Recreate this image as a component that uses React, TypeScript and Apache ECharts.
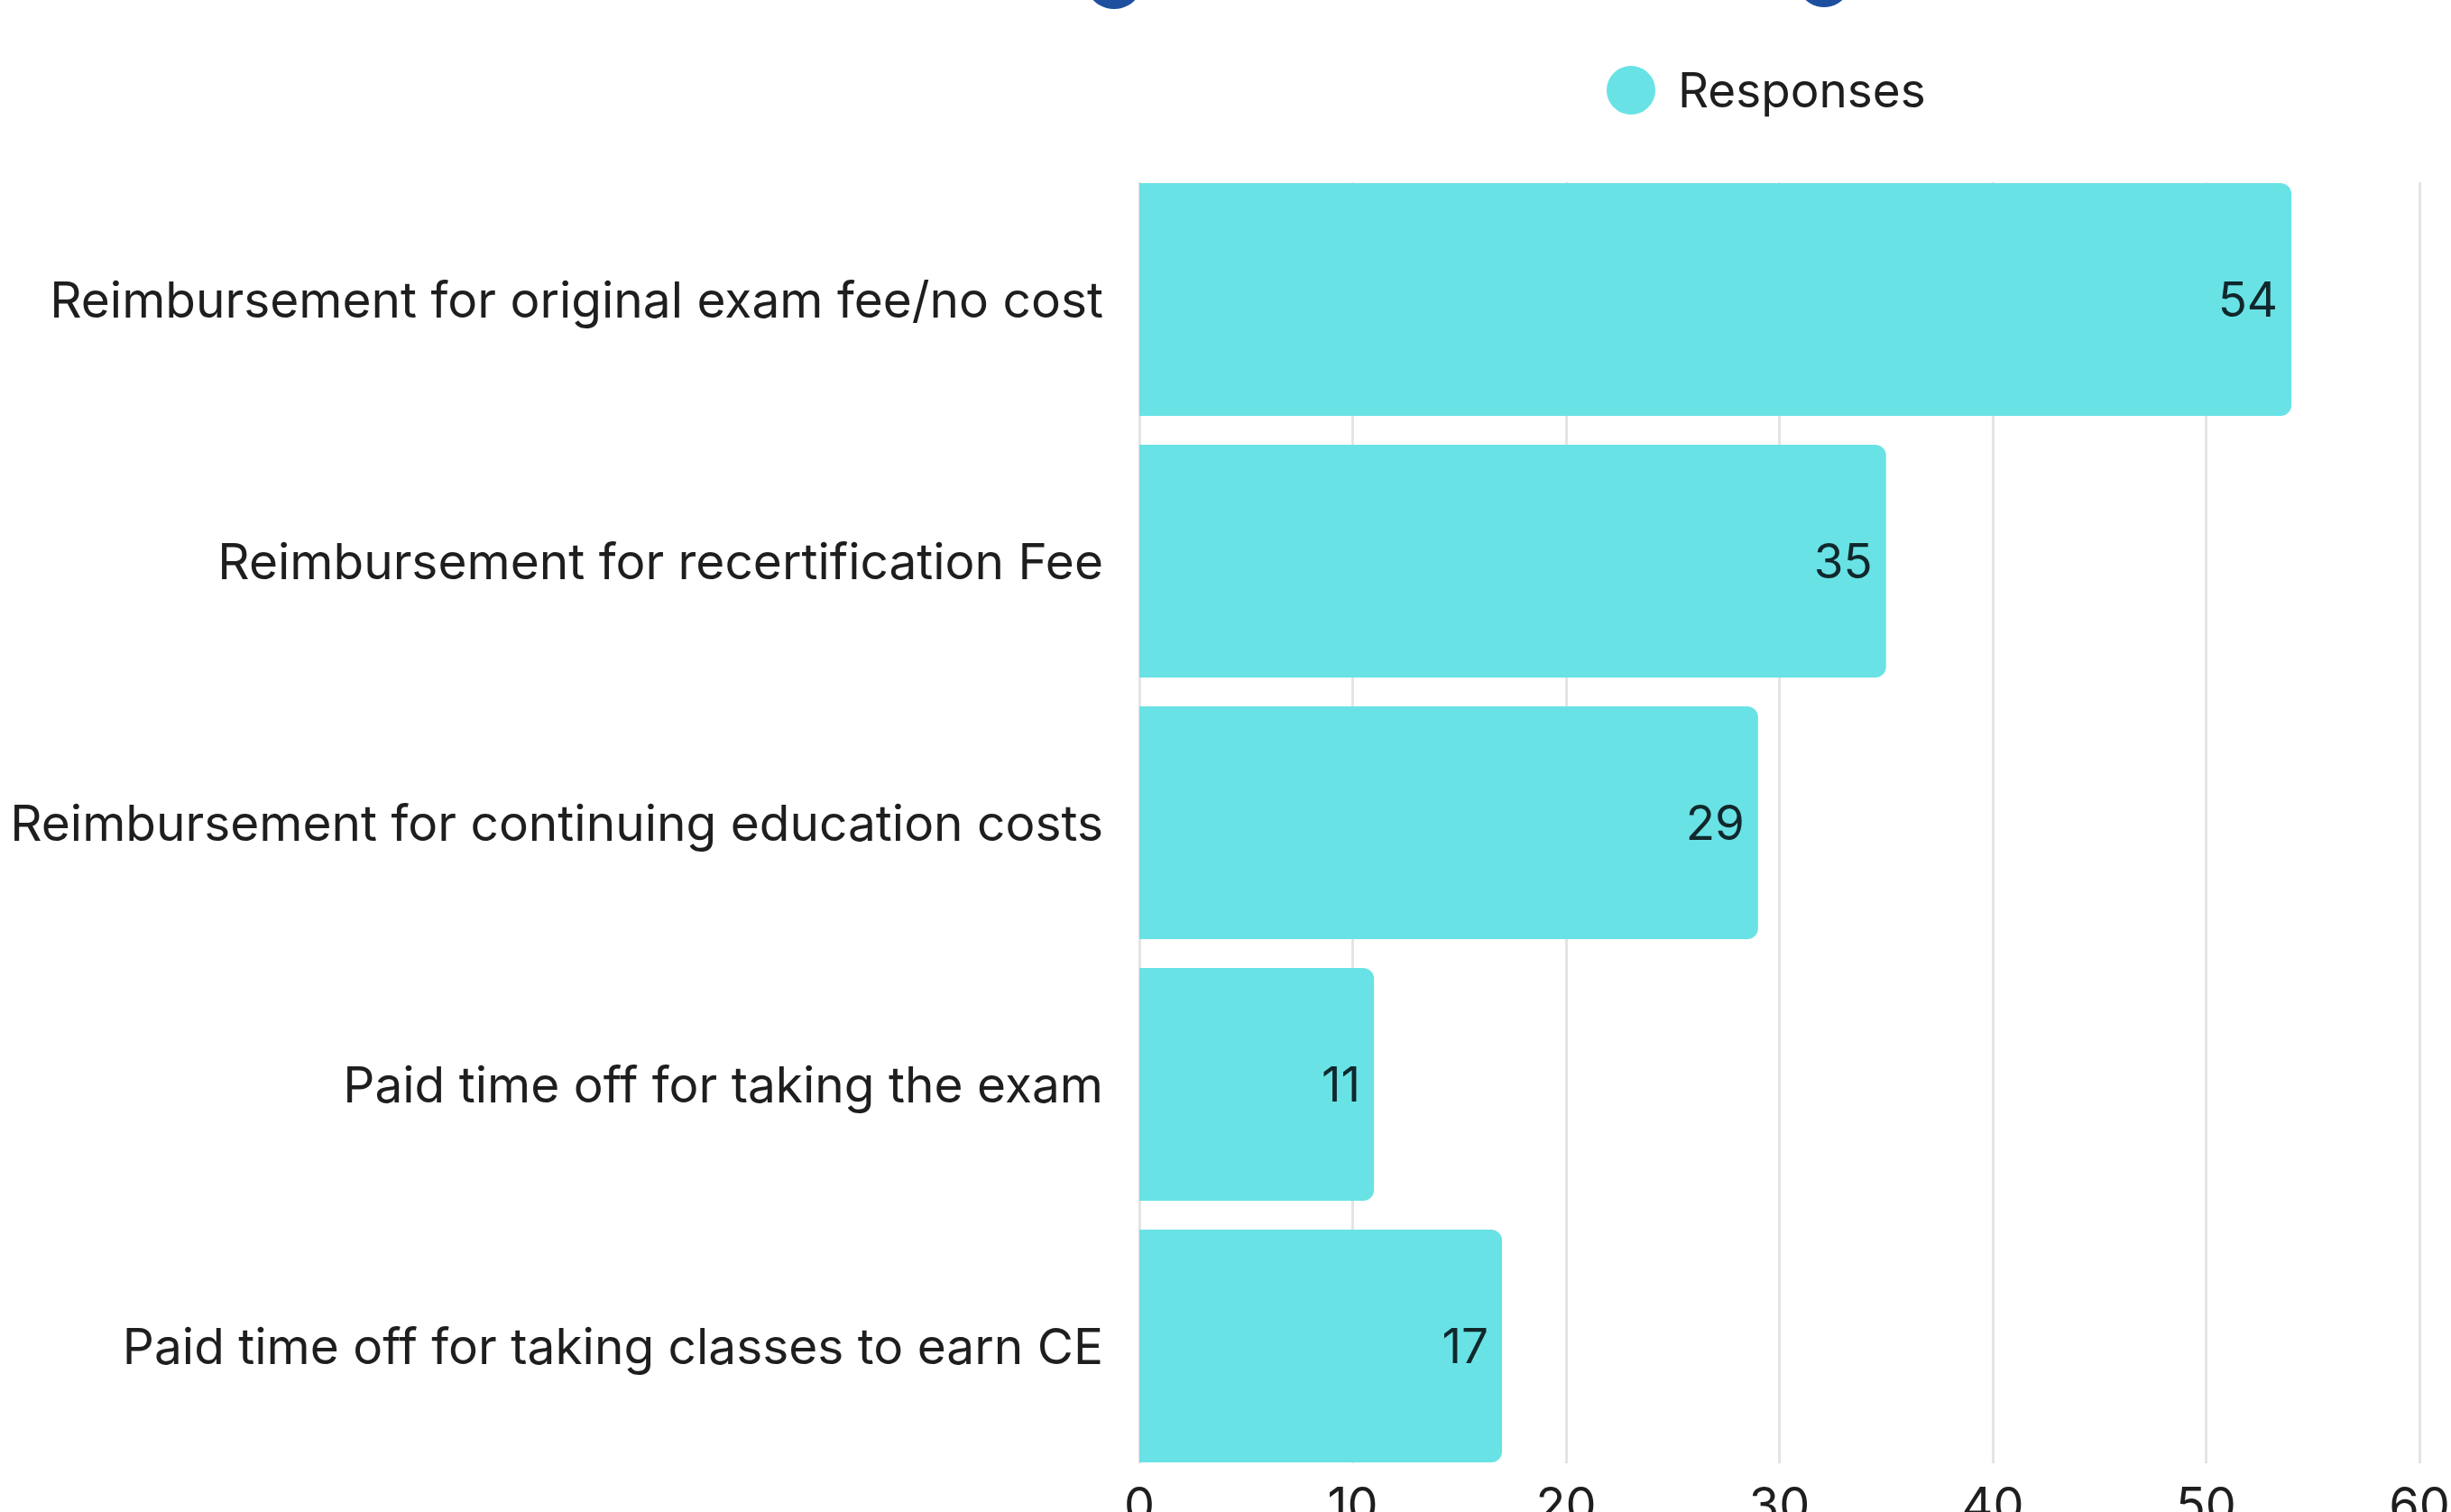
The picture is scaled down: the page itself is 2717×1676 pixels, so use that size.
import React, { useEffect, useRef } from "react";
import * as echarts from "echarts";

const categories = [
  "Reimbursement for original exam fee/no cost",
  "Reimbursement for recertification Fee",
  "Reimbursement for continuing education costs",
  "Paid time off for taking the exam",
  "Paid time off for taking classes to earn CE",
];
const responses = [54, 35, 29, 11, 17];
const seriesName = "Responses";
const xTicks = { min: 0, max: 60, interval: 10 };

const FONT = "Inter, 'Noto Sans', sans-serif";

export default function App() {
  const ref = useRef<HTMLDivElement>(null);
  useEffect(() => {
    if (!ref.current) return;
    const chart = echarts.init(ref.current, null, { renderer: "svg" });
    chart.setOption({
      animation: false,
      backgroundColor: "#ffffff",
      textStyle: { fontFamily: FONT },
      graphic: [
        { type: "circle", shape: { cx: 1235, cy: -22, r: 32 }, style: { fill: "#1d4f9e" } },
        { type: "circle", shape: { cx: 2022, cy: -22, r: 30 }, style: { fill: "#1d4f9e" } },
      ],
      legend: {
        left: 1776,
        top: 68,
        itemWidth: 54,
        itemHeight: 54,
        icon: "circle",
        data: [seriesName],
        textStyle: { fontSize: 53, color: "#1e1e1e", fontFamily: FONT, padding: [0, 0, 0, 20] },
      },
      grid: [
        { left: 1263, right: 35, top: 187, bottom: 39, containLabel: false, outerBoundsMode: "none" },
        { left: 1263, right: 35, top: 202, bottom: 54, containLabel: false, outerBoundsMode: "none" },
      ],
      xAxis: [
        {
          type: "value",
          gridIndex: 0,
          min: xTicks.min,
          max: xTicks.max,
          interval: xTicks.interval,
          axisLine: { show: false },
          axisTick: { show: false },
          splitLine: { show: false },
          axisLabel: { show: false },
        },
        {
          type: "value",
          gridIndex: 1,
          min: xTicks.min,
          max: xTicks.max,
          interval: xTicks.interval,
          axisLine: { show: false },
          axisTick: { show: false },
          splitLine: { show: true, lineStyle: { color: "#e4e4e4", width: 3 } },
          axisLabel: { fontSize: 54, color: "#1e1e1e", margin: 18, fontFamily: FONT },
        },
      ],
      yAxis: [
        {
          type: "category",
          gridIndex: 0,
          inverse: true,
          data: categories,
          axisLine: { show: false },
          axisTick: { show: false },
          axisLabel: {
            fontSize: 55,
            color: "#1e1e1e",
            margin: 40,
            fontFamily: FONT,
            padding: [0, 0, 10, 0],
          },
        },
        {
          type: "value",
          gridIndex: 1,
          show: false,
          splitLine: { show: false },
        },
      ],
      series: [
        {
          name: seriesName,
          type: "bar",
          xAxisIndex: 0,
          yAxisIndex: 0,
          data: responses,
          barCategoryGap: "11%",
          itemStyle: { color: "#69e2e5", borderRadius: [0, 12, 12, 0] },
          label: {
            show: true,
            position: "insideRight",
            distance: 15,
            fontSize: 53,
            color: "#10282c",
            fontFamily: FONT,
          },
        },
      ],
    });
    return () => chart.dispose();
  }, []);
  return (
    <div
      ref={ref}
      style={{ position: "fixed", left: 0, top: 0, width: 2717, height: 1676 }}
    />
  );
}
